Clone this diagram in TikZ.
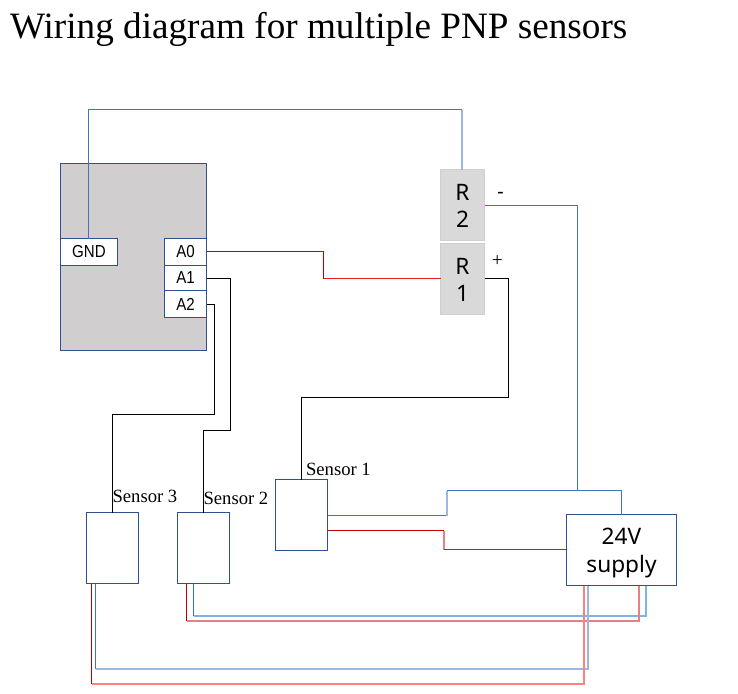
\documentclass[tikz,border=0pt]{standalone}
\usepackage{fontspec}
\setmainfont{Liberation Serif}
\newfontfamily\arialf{Liberation Sans}
\newfontfamily\gothf{Noto Sans}
\definecolor{edgeblue}{HTML}{2F528F}
\definecolor{wblue}{HTML}{4472C4}
\definecolor{wpale}{HTML}{9DB8E0}
\definecolor{wsky}{HTML}{7DB4E0}
\definecolor{wdeep}{HTML}{2E75B6}
\definecolor{wred}{HTML}{C00000}
\definecolor{wbright}{HTML}{E02020}
\definecolor{wpink}{HTML}{FF8080}
\definecolor{wrose}{HTML}{E48088}
\definecolor{mcu}{HTML}{D0CECE}
\definecolor{relay}{HTML}{D9D9D9}
\tikzset{
  every node/.style={inner sep=0pt,outer sep=0pt},
  box/.style={draw=edgeblue,line width=0.75pt,fill=white,anchor=center},
  pin/.style={box,font=\arialf\fontsize{13}{14}\selectfont\addfontfeature{FakeStretch=0.87}},
  relaybox/.style={draw=mcu,line width=0.75pt,fill=relay,minimum width=33pt,minimum height=53.25pt},
  boxtext/.style={align=center,font=\gothf\fontsize{17}{20.8}\selectfont},
  wire/.style={line width=0.75pt,line join=miter},
  soft/.style={line width=1.5pt,line join=miter},
  lbl/.style={font=\fontsize{14}{16}\selectfont,anchor=base west},
}
\begin{document}
\begin{tikzpicture}[x=0.75pt,y=-0.75pt]
\useasboundingbox (0,0) rectangle (738,693);
\node[anchor=west,font=\fontsize{27.9}{32}\selectfont] (title) at (10,29) {Wiring diagram for multiple PNP sensors};
% boxes
\node[box,fill=mcu,minimum width=109.5pt,minimum height=140.25pt] (main) at (133.5,257) {};
\node[pin,minimum width=42.75pt,minimum height=20.25pt] (gnd) at (89,252) {GND};
\node[pin,minimum width=31.5pt,minimum height=20.25pt] (a0) at (185.5,252) {A0};
\node[pin,minimum width=31.5pt,minimum height=18.75pt] (a1) at (185.5,278) {A1};
\node[pin,minimum width=31.5pt,minimum height=20.25pt] (a2) at (185.5,304) {A2};
\node[relaybox,label={[boxtext,yshift=-0.75pt]center:R\\2}] (r2) at (462.5,205) {};
\node[relaybox,label={[boxtext,yshift=-0.75pt]center:R\\1}] (r1) at (462.5,279) {};
\node[box,minimum width=39pt,minimum height=53.25pt] (s1) at (301.5,515) {};
\node[box,minimum width=39pt,minimum height=53.25pt] (s2) at (203.5,548) {};
\node[box,minimum width=39pt,minimum height=53.25pt] (s3) at (112.5,548) {};
\node[box,minimum width=82.5pt,minimum height=53.25pt,label={[boxtext,yshift=-2.5pt]center:24V\\supply}] (sup) at (621.5,550) {};
% labels
\node[lbl] (l1) at (306,475) {Sensor 1};
\node[lbl] (l2) at (203.5,504.7) {Sensor 2};
\node[lbl] (l3) at (112.5,502.7) {Sensor 3};
\node[font=\gothf\fontsize{15}{16}\selectfont] (minus) at (500.7,195) {-};
\node[font=\fontsize{14.5}{16}\selectfont] (plus) at (497.3,261) {+};
% routing points
\coordinate (gndtop) at (88.5,109.5);
\coordinate (rtop) at (462,109.5);
\coordinate (j) at (577.5,490.5);
\coordinate (r2y) at (577.5,205.5);
\coordinate (a0x) at (323.5,251.5);
\coordinate (a0z) at (323.5,278.5);
\coordinate (a1y) at (230.5,278.5);
\coordinate (a1z) at (230.5,430.5);
\coordinate (a1x) at (203.5,430.5);
\coordinate (a2y) at (214.5,304.5);
\coordinate (a2z) at (214.5,414.5);
\coordinate (a2x) at (112.5,414.5);
\coordinate (r1y) at (508.5,278.5);
\coordinate (r1z) at (508.5,397.5);
\coordinate (r1x) at (301.5,397.5);
\coordinate (s1bx) at (447,515.5);
\coordinate (s1by) at (447,490.5);
\coordinate (s1rx) at (444,530.5);
\coordinate (s1ry) at (444,549.5);
\coordinate (skyb) at (646,616);
\coordinate (skyl) at (193.5,616);
\coordinate (roseb) at (639,621);
\coordinate (rosel) at (186.5,621);
\coordinate (paleb) at (588,669);
\coordinate (palel) at (95.5,669);
\coordinate (pinkb) at (584,684);
\coordinate (pinkl) at (91.5,684);
% wires
\draw[wire,wblue] (gnd.north -| gndtop) -- (gndtop) -- (rtop);
\draw[soft,wpale] (rtop) -- (r2.north -| rtop);
\draw[wire,wblue] (r2.east |- r2y) -- (r2y) -- (j);
\draw[wire,wred] (a0.east |- a0x) -- (a0x) -- (a0z);
\draw[wire,wbright] (a0z) -- (r1.west |- a0z);
\draw[wire,black] (a1.east |- a1y) -- (a1y) -- (a1z) -- (a1x) -- (s2.north);
\draw[wire,black] (a2.east |- a2y) -- (a2y) -- (a2z) -- (a2x) -- (s3.north);
\draw[wire,black] (r1.east |- r1y) -- (r1y) -- (r1z) -- (r1x) -- (s1.north);
\draw[wire,wblue] (s1.east |- s1bx) -- (s1bx);
\draw[soft,wpale] (s1bx) -- (s1by);
\draw[wire,wblue] (s1by) -| (sup.north);
\draw[wire,wred] (s1.east |- s1rx) -- (s1rx);
\draw[soft,wrose] (s1rx) -- (s1ry);
\draw[wire,wred!80!wrose] (s1ry) -- (sup.west |- s1ry);
% bottom wires
\draw[soft,wsky] (sup.south -| skyb) -- (skyb) -- (skyl);
\draw[wire,wdeep] (skyl) -- (s2.south -| skyl);
\draw[soft,wrose] (sup.south -| roseb) -- (roseb) -- (rosel);
\draw[wire,wred] (rosel) -- (s2.south -| rosel);
\draw[soft,wpale] (sup.south -| paleb) -- (paleb) -- (palel);
\draw[wire,wblue] (palel) -- (s3.south -| palel);
\draw[soft,wpink] (sup.south -| pinkb) -- (pinkb) -- (pinkl);
\draw[wire,wred] (pinkl) -- (s3.south -| pinkl);
\end{tikzpicture}
\end{document}
